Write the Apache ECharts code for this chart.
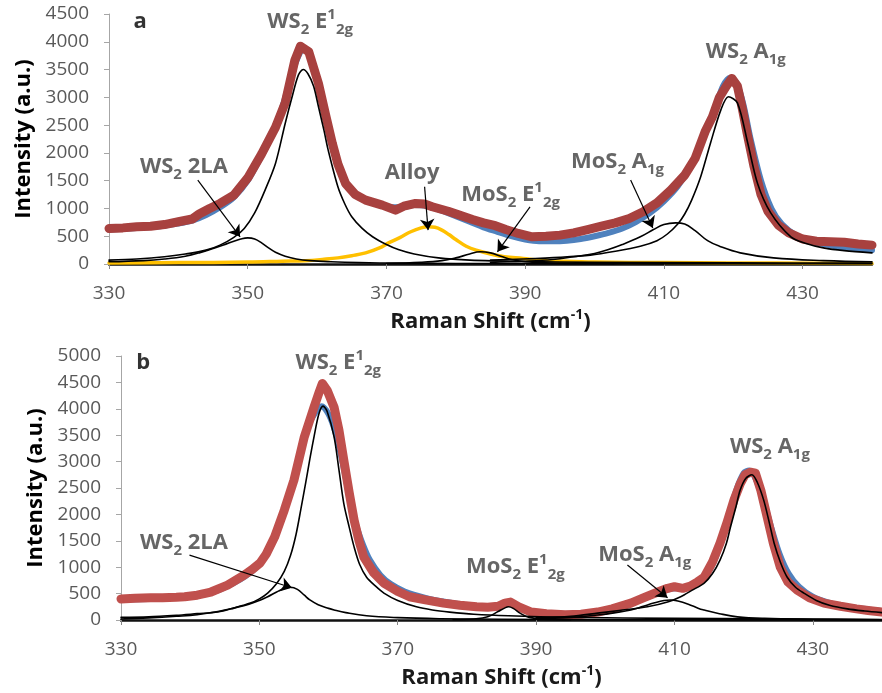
<!DOCTYPE html>
<html><head><meta charset="utf-8">
<script src="https://cdn.jsdelivr.net/npm/echarts@6/dist/echarts.min.js"></script>
<style>html,body{margin:0;padding:0;background:#fff}#c{width:882px;height:693px}</style>
</head><body><div id="c"></div>
<script>
// ---------- Tick labels ----------
const X_TICKS = [330, 350, 370, 390, 410, 430];

// ---------- Panel a ----------
const A_RED_X = [330,332,334,336,338,340,342,343,344.5,346,348,350,352,354,355.4,356.8,357.6,358.8,360.2,361.2,362.2,363,364.1,365.5,367,369.4,371.3,372.5,374.2,375.5,376.6,378.9,380.5,382.4,384,385.7,387.2,389,391,393,395,397,399,401,403,405,407,409,411,413,414.5,416,417,418,419,419.8,420.6,421.3,422,423,424,425,426.5,428,430,432,434,436,438,440];
const A_RED_Y = [640,650,670,680,710,760,810,900,1000,1090,1240,1550,1980,2460,2900,3670,3920,3820,3250,2700,2170,1800,1450,1250,1150,1060,970,1040,1090,1080,1030,950,880,800,740,690,620,550,490,500,520,560,620,680,740,820,940,1100,1330,1600,1900,2400,2650,3000,3200,3340,3200,2800,2350,1750,1250,950,700,560,450,410,400,390,360,340];

const A_FIT_X = [330,334,338,340,342,344,346,348,350,352,354,356,357,358,359,360,361,362,363,364,366,368,370,372,374,376,378,380,382,384,386,388,390,392,394,396,398,400,402,404,406,408,410,412,414,416,417.5,418.5,419.5,420.5,421.5,422.5,424,425.5,427,429,431,433,436,440];
const A_FIT_Y = [620,650,690,730,780,880,1020,1200,1500,1950,2450,3250,3650,3850,3750,3330,2750,2200,1800,1480,1220,1100,1030,1020,1060,1040,960,860,760,660,580,500,440,410,410,420,450,500,560,640,760,920,1130,1400,1800,2350,2850,3200,3350,3250,2850,2250,1500,1000,720,520,420,360,300,250];

const A_WS2_E2G_X = [330,334,338,341,344,346,348,349.5,351,352.5,354,355.4,356.4,357.3,358,358.7,359.5,360.2,361,361.6,363,364,365,366.5,368,370,371.7,374,377.5,382,390,400,420,440];
const A_WS2_E2G_Y = [70,90,130,180,250,340,480,640,920,1330,1810,2530,3010,3400,3500,3420,3200,2830,2400,2050,1390,1080,850,640,490,350,260,180,110,70,45,30,20,15];

const A_WS2_2LA_X = [330,335,338,341,343,345,346.5,348,349,350,351,352,353,354,355.4,357,359,362,366,372,380,400,440];
const A_WS2_2LA_Y = [40,60,90,140,200,280,340,410,450,470,450,380,290,210,140,90,60,40,25,15,10,5,0];

const A_ALLOY_X = [330,340,350,355,358.3,361,363,365,367,369,370.3,372,373.5,375,376,377,378,379,380,381.5,383.2,385,387,389.7,392,394.6,400,410,420,432,440];
const A_ALLOY_Y = [20,25,35,50,60,85,110,150,200,290,380,480,580,650,670,660,610,530,440,320,240,180,130,100,70,55,35,25,20,15,10];

const A_MOS2_E2G_X = [370,375,378,380,382,383.5,385,386.5,388,390,393,400,410];
const A_MOS2_E2G_Y = [10,30,60,110,180,220,200,140,80,40,20,8,0];

const A_MOS2_A1G_X = [385,390,394,397,400,402,404,406.6,408.5,410,411.7,413,414.5,416.3,418,421,425.8,433,440];
const A_MOS2_A1G_Y = [30,50,80,130,190,260,350,490,620,710,740,720,600,420,320,200,110,60,40];

const A_WS2_A1G_X = [385,389.7,395,399.4,403,406.6,409,410.5,412,413,414,415.3,416.7,418.2,419.3,420.6,422.1,423.5,425.4,428.3,430.5,433,436,440];
const A_WS2_A1G_Y = [70,90,120,160,230,320,420,540,720,900,1150,1570,2170,2770,3010,2900,2170,1450,920,490,370,290,240,200];

// ---------- Panel b ----------
const B_RED_X = [330,332,334.3,336,338,339.2,341,343,345.4,347.8,349,350.1,351,352.2,353.6,355,356.5,357.9,358.6,359.1,359.8,360.8,361.5,362.2,363,363.7,364.4,365.1,366.5,368,370,371.7,374,376.6,379,381.4,383,384.5,385.5,386.3,387.5,389.3,391.5,394.2,396.5,398.9,401,403.7,405.5,407.6,409,410,411.2,412.3,413.3,414.3,415.5,416.6,417.6,418.6,419.5,420.2,421,421.7,422.5,423.4,424.3,425.3,426.4,427.7,429.5,431.6,434,436.3,438,440];
const B_RED_Y = [400,410,420,420,430,440,470,530,660,850,960,1080,1250,1570,2080,2650,3470,4030,4300,4480,4350,4030,3600,3030,2400,1890,1500,1190,900,700,540,440,380,320,280,250,240,260,320,340,250,150,120,100,110,150,210,320,420,530,600,630,600,640,720,810,1100,1460,1850,2270,2580,2750,2800,2780,2450,1950,1450,1000,720,570,420,320,260,210,180,150];

const B_FIT_X = [330,334,338,341,344,346,348,350,352,354,355.5,357,358.2,359,360,361,362,363,364,365,366,367.5,369,371,374,377,380,383,384.5,386,387.5,389,392,395,398,401,404,406,408,409.5,411,413,414.5,416,417.5,419,420,420.8,421.7,422.8,424,425.2,426.5,428,430,432.5,435,438,440];
const B_FIT_Y = [390,400,420,460,560,680,830,1060,1480,2230,2950,3650,3950,4050,3900,3550,3000,2350,1800,1420,1130,850,680,540,420,340,280,240,250,330,230,160,120,110,140,210,330,430,530,590,610,690,830,1200,1820,2480,2780,2830,2680,2300,1750,1250,880,630,440,320,250,200,170];

const B_WS2_E2G_X = [330,334,338,341,344,346.4,348.7,350,351.2,352.5,353.6,354.5,355.3,356,356.7,357.3,357.9,358.6,359.2,359.8,360.8,361.5,362.2,363,363.7,364.5,365.5,366.8,368,370,372.7,375,377.5,381,386,395,410,440];
const B_WS2_E2G_Y = [50,60,90,120,150,230,320,400,510,690,920,1220,1620,2100,2600,3050,3470,3900,4050,3950,3470,2850,2210,1750,1380,1050,810,640,510,370,250,190,150,110,80,50,30,10];

const B_WS2_2LA_X = [330,334,338,341,344,346.4,348.5,350,351.2,352.5,353.5,354.5,355.5,356.5,357.3,358.5,360,360.8,362.5,365.5,370,376,385,400,440];
const B_WS2_2LA_Y = [20,40,70,100,160,230,300,370,440,530,590,620,580,470,380,290,220,190,140,80,45,25,15,5,0];

const B_MOS2_E2G_X = [378,381,383,384.5,385.5,386,386.7,387.8,389,391,395];
const B_MOS2_E2G_Y = [5,20,60,160,230,250,220,120,50,15,0];

const B_MOS2_A1G_X = [390,395,398.9,401.5,403.7,405.5,407,408.5,409.4,410.5,412,413.5,414.3,416.5,419.1,423,430,440];
const B_MOS2_A1G_Y = [20,50,95,140,190,260,320,370,380,360,300,220,190,120,60,30,15,5];

const B_WS2_A1G_X = [390,395,398.9,402,406.1,409,410.9,412.5,414.3,415.5,416.6,417.5,418.1,418.9,419.5,420.3,421.2,422,422.9,423.7,424.4,425.3,426.3,427.5,428.7,430.5,432.4,435,437.5,440];
const B_WS2_A1G_Y = [40,70,130,180,250,340,440,560,700,880,1140,1450,1760,2150,2460,2680,2750,2600,2270,1850,1460,1100,810,620,510,370,280,210,170,140];

// ---------- Annotations (text anchor / arrows in data units) ----------
const T_WS2_E2G = '{m|WS}{s|2}{m| E}{p|1}{s|2g}';
const T_WS2_2LA = '{m|WS}{s|2}{m| 2LA}';
const T_ALLOY = '{m|Alloy}';
const T_MOS2_E2G = '{m|MoS}{s|2}{m| E}{p|1}{s|2g}';
const T_MOS2_A1G = '{m|MoS}{s|2}{m| A}{s|1g}';
const T_WS2_A1G = '{m|WS}{s|2}{m| A}{s|1g}';

const A_LABELS = [
  {pos:[359.0, 4360], text:T_WS2_E2G},
  {pos:[340.8, 1746], text:T_WS2_2LA},
  {pos:[373.7, 1640], text:T_ALLOY},
  {pos:[387.9, 1240], text:T_MOS2_E2G},
  {pos:[403.3, 1836], text:T_MOS2_A1G},
  {pos:[421.8, 3816], text:T_WS2_A1G},
  {pos:[334.5, 4356], text:'{L|a}'}
];
const B_LABELS = [
  {pos:[361.4, 4868], text:T_WS2_E2G},
  {pos:[339.1, 1458], text:T_WS2_2LA},
  {pos:[387.0, 1004], text:T_MOS2_E2G},
  {pos:[405.7, 1231], text:T_MOS2_A1G},
  {pos:[423.8, 3277], text:T_WS2_A1G},
  {pos:[333.2, 4868], text:'{L|b}'}
];
const A_ARROWS = [
  [[342.8,1510],[348.9,490]],
  [[375.5,1390],[376.0,610]],
  [[390.7,1030],[386.0,220]],
  [[405.2,1510],[408.4,650]]
];
const B_ARROWS = [
  [[339.9,1230],[354.7,610]],
  [[403.2,1040],[409.0,420]]
];

// ---------- Build ----------
const FONT = "'Open Sans', 'DejaVu Sans', sans-serif";
const RICH = {
  m: {fontSize: 22, fontWeight: 'bold', color: '#404040', lineHeight: 30, fontFamily: FONT},
  s: {fontSize: 15, fontWeight: 'bold', color: '#404040', lineHeight: 15, verticalAlign: 'bottom', fontFamily: FONT},
  p: {fontSize: 15, fontWeight: 'bold', color: '#404040', lineHeight: 15, verticalAlign: 'top', fontFamily: FONT},
  L: {fontSize: 22, fontWeight: 'bold', color: '#000', lineHeight: 30, fontFamily: FONT}
};
function zip(xs, ys) { return xs.map((x, i) => [x, ys[i]]); }
function lineS(gi, xs, ys, color, width, z, smooth) {
  return {type: 'line', xAxisIndex: gi, yAxisIndex: gi, data: zip(xs, ys), symbol: 'none', showSymbol: false,
    smooth: smooth, silent: true, z: z,
    lineStyle: {color: color, width: width, cap: 'round', join: 'round'}};
}
function labelS(gi, items) {
  return {type: 'scatter', xAxisIndex: gi, yAxisIndex: gi, symbolSize: 1, silent: true, z: 30,
    itemStyle: {color: 'rgba(0,0,0,0)'},
    data: items.map(it => ({value: it.pos, label: {show: true, position: 'inside', formatter: it.text, rich: RICH}}))};
}
function arrowS(gi, arr) {
  return {type: 'lines', coordinateSystem: 'cartesian2d', xAxisIndex: gi, yAxisIndex: gi, silent: true, z: 25,
    symbol: ['none', 'arrow'], symbolSize: 11,
    lineStyle: {color: '#000', width: 1.2, opacity: 1},
    data: arr.map(c => ({coords: c}))};
}
function xAx(gi) {
  return {gridIndex: gi, type: 'value', min: 330, max: 440,
    axisLine: {show: true, onZero: false, lineStyle: {color: '#111', width: 2.5}},
    axisTick: {show: true, length: 5, customValues: X_TICKS, lineStyle: {color: '#868686'}},
    axisLabel: {customValues: X_TICKS, color: '#595959', fontSize: 19, margin: 20, fontFamily: FONT},
    splitLine: {show: false},
    name: '{m|Raman Shift (cm}{p|-1}{m|)}', nameLocation: 'middle', nameGap: 44,
    nameTextStyle: {rich: {
      m: {fontSize: 22, fontWeight: 'bold', color: '#1a1a1a', lineHeight: 28, fontFamily: FONT},
      p: {fontSize: 14, fontWeight: 'bold', color: '#1a1a1a', lineHeight: 14, verticalAlign: 'top', fontFamily: FONT}
    }}
  };
}
function yAx(gi, max, gap) {
  return {gridIndex: gi, type: 'value', min: 0, max: max, interval: 500,
    axisLine: {show: true, lineStyle: {color: '#a6a6a6', width: 1}},
    axisTick: {show: true, length: 5, lineStyle: {color: '#a6a6a6'}},
    axisLabel: {color: '#595959', fontSize: 19, margin: 20, fontFamily: FONT, formatter: v => String(v)},
    splitLine: {show: false},
    name: 'Intensity (a.u.)', nameLocation: 'middle', nameGap: gap,
    nameTextStyle: {fontSize: 22, fontWeight: 'bold', color: '#000', fontFamily: FONT}
  };
}

const RED_A = '#A8413F', RED_B = '#C0504D', BLUE = '#4F81BD', YEL = '#FFC000', BLK = '#000';

const option = {
  animation: false,
  backgroundColor: '#fff',
  grid: [
    {left: 109, top: 14, width: 763, height: 250},
    {left: 121, top: 356, width: 766, height: 264}
  ],
  xAxis: [xAx(0), xAx(1)],
  yAxis: [yAx(0, 4500, 71), yAx(1, 5000, 68)],
  series: [
    lineS(0, A_FIT_X, A_FIT_Y, BLUE, 6, 2, 0.3),
    lineS(0, A_RED_X, A_RED_Y, RED_A, 9, 3, false),
    lineS(0, A_ALLOY_X, A_ALLOY_Y, YEL, 3.5, 4, 0.4),
    lineS(0, A_WS2_E2G_X, A_WS2_E2G_Y, BLK, 1.6, 5, 0.3),
    lineS(0, A_WS2_2LA_X, A_WS2_2LA_Y, BLK, 1.6, 5, 0.4),
    lineS(0, A_MOS2_E2G_X, A_MOS2_E2G_Y, BLK, 1.6, 5, 0.4),
    lineS(0, A_MOS2_A1G_X, A_MOS2_A1G_Y, BLK, 1.6, 5, 0.4),
    lineS(0, A_WS2_A1G_X, A_WS2_A1G_Y, BLK, 1.6, 5, 0.3),
    arrowS(0, A_ARROWS),
    labelS(0, A_LABELS),

    lineS(1, B_FIT_X, B_FIT_Y, BLUE, 6, 2, 0.3),
    lineS(1, B_RED_X, B_RED_Y, RED_B, 9, 3, false),
    lineS(1, B_WS2_E2G_X, B_WS2_E2G_Y, BLK, 1.6, 5, 0.3),
    lineS(1, B_WS2_2LA_X, B_WS2_2LA_Y, BLK, 1.6, 5, 0.4),
    lineS(1, B_MOS2_E2G_X, B_MOS2_E2G_Y, BLK, 1.6, 5, 0.4),
    lineS(1, B_MOS2_A1G_X, B_MOS2_A1G_Y, BLK, 1.6, 5, 0.4),
    lineS(1, B_WS2_A1G_X, B_WS2_A1G_Y, BLK, 1.6, 5, 0.3),
    arrowS(1, B_ARROWS),
    labelS(1, B_LABELS)
  ]
};
const chart = echarts.init(document.getElementById('c'), null, {renderer: 'canvas'});
chart.setOption(option);
</script></body></html>
